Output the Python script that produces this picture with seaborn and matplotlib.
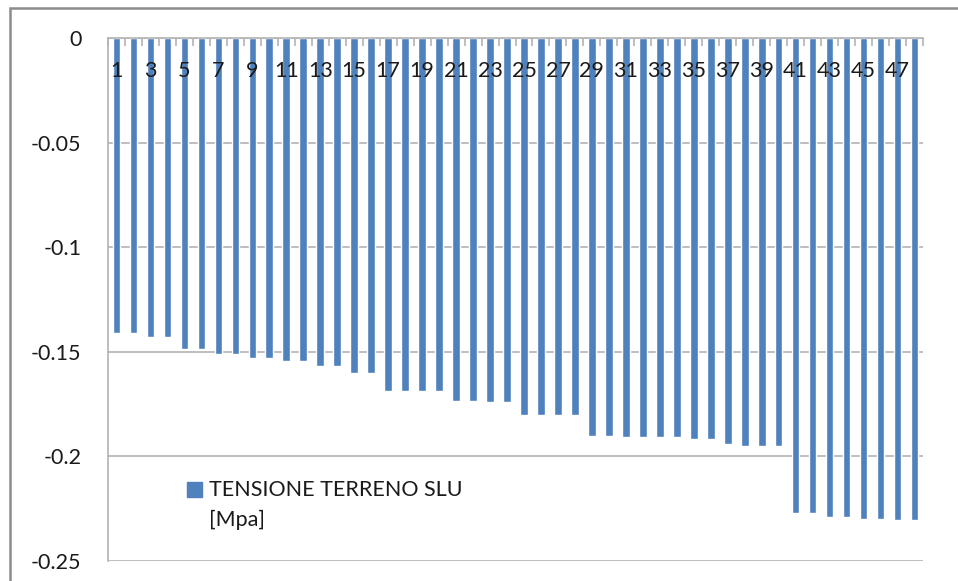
import matplotlib
matplotlib.use("Agg")
import matplotlib.pyplot as plt
import seaborn as sns
from matplotlib.patches import Patch, Rectangle
from matplotlib.legend_handler import HandlerPatch

# bar values [Mpa], one per element 1..48
element = [str(i) for i in range(1, 49)]
tensione = [-0.1412, -0.1412, -0.1429, -0.1429, -0.1487, -0.1487, -0.1511, -0.1511,
            -0.1529, -0.1529, -0.1546, -0.1546, -0.1570, -0.1570, -0.1602, -0.1602,
            -0.1688, -0.1688, -0.1688, -0.1688, -0.1737, -0.1737, -0.1742, -0.1742,
            -0.1803, -0.1803, -0.1803, -0.1803, -0.1903, -0.1903, -0.1908, -0.1908,
            -0.1908, -0.1908, -0.1919, -0.1919, -0.1943, -0.1951, -0.1951, -0.1951,
            -0.2270, -0.2270, -0.2288, -0.2288, -0.2299, -0.2299, -0.2305, -0.2305]
y_ticks = [-0.25, -0.2, -0.15, -0.1, -0.05, 0]
y_labels = ["-0.25", "-0.2", "-0.15", "-0.1", "-0.05", "0"]
legend_label = "TENSIONE TERRENO SLU\n[Mpa]"

BLUE = "#4F81BD"
GRID = "#B3B3B3"
TXT = "#1a1a1a"

sns.set_style("white")
plt.rcParams["font.family"] = ["Lato", "DejaVu Sans"]

fig = plt.figure(figsize=(9.58, 5.81), dpi=100)
ax = fig.add_axes([108 / 958, 1 - 561 / 581, (923 - 108) / 958, (561 - 38) / 581])

sns.barplot(x=element, y=tensione, color=BLUE, saturation=1, width=0.45, ax=ax)

ax.set_ylim(-0.25, 0)
ax.set_xlim(-0.5, len(element) - 0.5)
ax.set_yticks(y_ticks)
ax.set_yticklabels(y_labels, fontsize=15.5, color=TXT)
ax.yaxis.grid(True, color=GRID, lw=1.2)
ax.set_axisbelow(True)
ax.xaxis.set_zorder(5)  # category labels drawn over the bars
ax.tick_params(axis="y", length=7, width=1.2, color=GRID, pad=12, direction="out")

# category axis sits at 0 (top), labels drawn inside below it
ax.xaxis.tick_top()
ax.set_xticks(range(0, len(element), 2))
ax.set_xticklabels(element[::2], fontsize=15.5, color=TXT)
ax.set_xticks([i - 0.5 for i in range(len(element) + 1)], minor=True)
ax.tick_params(axis="x", which="major", length=0, pad=-31)
ax.tick_params(axis="x", which="minor", length=6, width=1.2, color=GRID, direction="in", top=True)
ax.set_xlabel("")
ax.set_ylabel("")

for s in ["right", "bottom"]:
    ax.spines[s].set_visible(False)
for s in ["top", "left"]:
    ax.spines[s].set_color(GRID)
    ax.spines[s].set_linewidth(1.2)
    ax.spines[s].set_zorder(5)


# legend square sits next to the first text line, as in Excel
def top_square(legend, orig_handle, xdescent, ydescent, width, height, fontsize):
    return Rectangle((-xdescent, -ydescent + 11.5), width, height)


leg = ax.legend(handles=[Patch(color=BLUE, label=legend_label)], frameon=False,
                loc="upper left", bbox_to_anchor=(60 / 815, 100 / 523),
                fontsize=15.5, handlelength=0.7, handleheight=0.7, handletextpad=0.3,
                labelcolor=TXT, handler_map={Patch: HandlerPatch(patch_func=top_square)})
for t in leg.get_texts():
    t.set_linespacing(1.6)

# outer chart frame
fig.patches.append(Rectangle((10 / 958, -0.1), 1.2, 1.1 - 8 / 581,
                             transform=fig.transFigure, fill=False,
                             edgecolor="#8C8C8C", lw=1.8))

fig.savefig("out.png", dpi=100)
